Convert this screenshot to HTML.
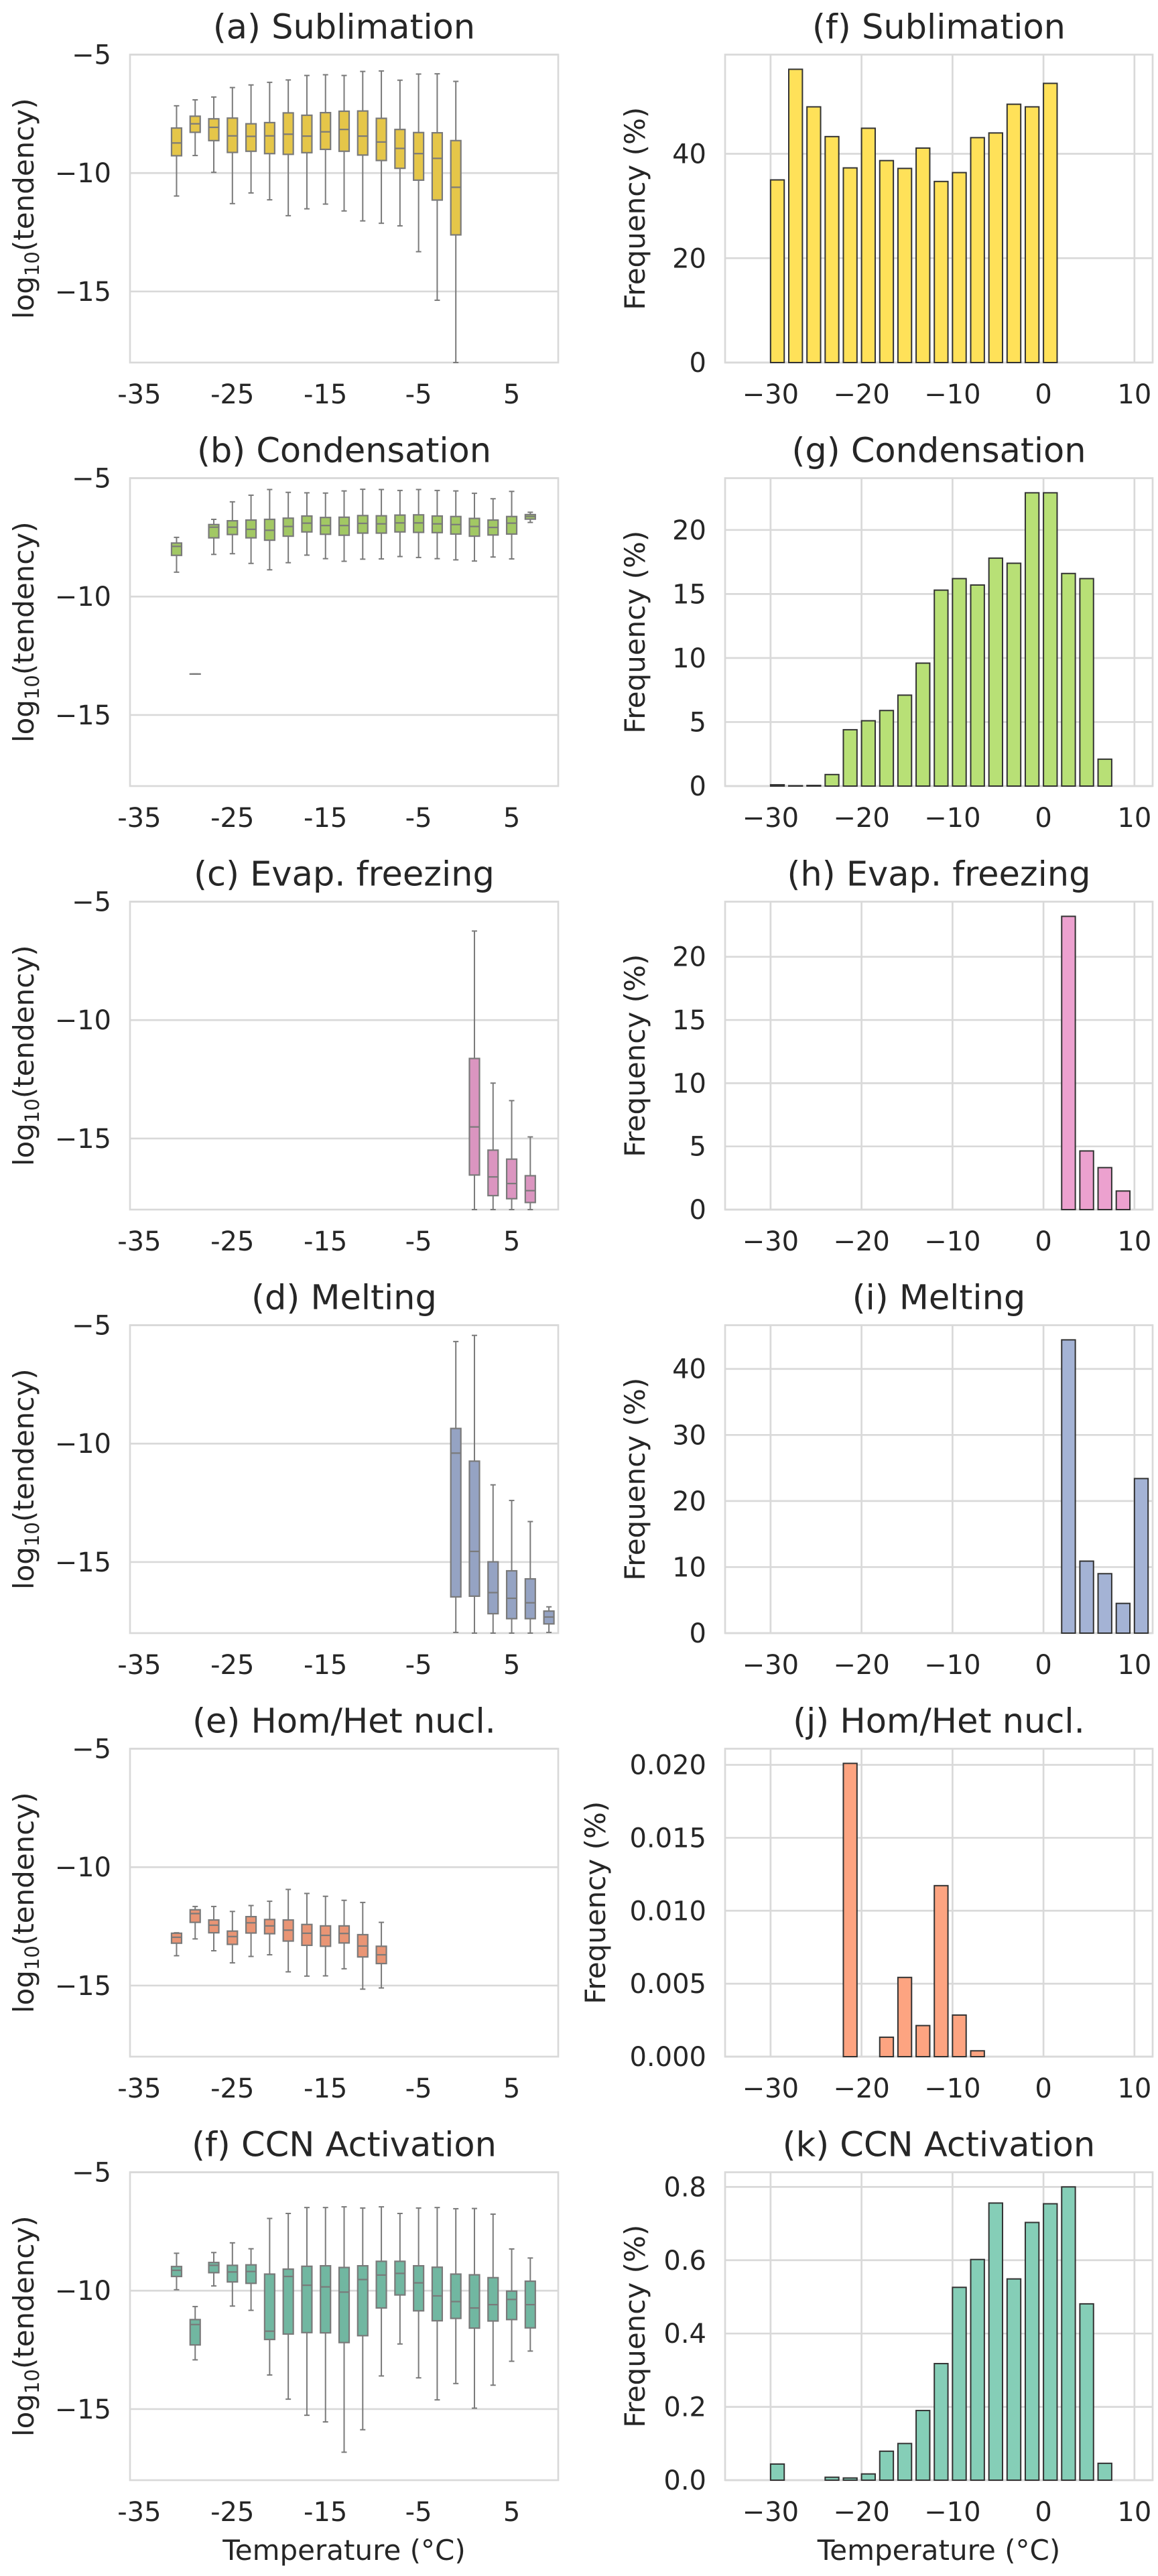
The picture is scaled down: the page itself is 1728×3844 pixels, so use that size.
<!DOCTYPE html>
<html><head><meta charset="utf-8"><title>Tendency boxplots and frequency histograms</title>
<style>
html,body{margin:0;padding:0;background:#fff;}
svg{display:block;}
text{font-family:"DejaVu Sans","Liberation Sans",sans-serif;fill:#262626;}
</style></head>
<body>
<svg id="fig" xmlns="http://www.w3.org/2000/svg" width="1728" height="3844" viewBox="0 0 1728 3844"></svg>
<script>
// ---------- data: box panels (temperature centers, whisker hi, q3, median, q1, whisker lo) ----------
const aT   = [-31,-29,-27,-25,-23,-21,-19,-17,-15,-13,-11,-9,-7,-5,-3,-1];
const aHi  = [-7.16,-6.91,-6.79,-6.39,-6.28,-6.17,-6.07,-5.88,-5.85,-5.88,-5.71,-5.69,-6.08,-5.82,-5.81,-6.13];
const aQ3  = [-8.10,-7.60,-7.71,-7.68,-7.92,-7.87,-7.46,-7.56,-7.45,-7.39,-7.38,-7.69,-8.16,-8.29,-8.30,-8.63];
const aMed = [-8.73,-7.92,-8.07,-8.43,-8.45,-8.43,-8.36,-8.44,-8.26,-8.16,-8.44,-8.69,-8.96,-9.18,-9.38,-10.60];
const aQ1  = [-9.27,-8.28,-8.63,-9.13,-9.08,-9.18,-9.21,-9.14,-9.00,-9.08,-9.24,-9.47,-9.80,-10.30,-11.14,-12.61];
const aLo  = [-10.97,-9.26,-9.97,-11.29,-10.84,-11.13,-11.80,-11.51,-11.31,-11.60,-12.02,-12.12,-12.23,-13.32,-15.37,-18.0];

const bT   = [-31,-29,-27,-25,-23,-21,-19,-17,-15,-13,-11,-9,-7,-5,-3,-1,1,3,5,7];
const bHi  = [-7.50,-13.27,-6.74,-6.00,-5.72,-5.48,-5.60,-5.62,-5.63,-5.54,-5.47,-5.48,-5.52,-5.48,-5.52,-5.54,-5.64,-5.87,-5.56,-6.44];
const bQ3  = [-7.74,-13.27,-6.96,-6.80,-6.77,-6.74,-6.69,-6.60,-6.66,-6.65,-6.58,-6.59,-6.56,-6.55,-6.60,-6.62,-6.70,-6.77,-6.62,-6.54];
const bMed = [-7.88,-13.27,-7.07,-7.07,-7.16,-7.20,-7.04,-6.90,-7.00,-7.00,-6.91,-6.93,-6.89,-6.89,-6.93,-6.96,-7.04,-7.08,-6.90,-6.62];
const bQ1  = [-8.26,-13.27,-7.52,-7.38,-7.52,-7.62,-7.45,-7.27,-7.37,-7.41,-7.32,-7.32,-7.27,-7.29,-7.30,-7.36,-7.45,-7.40,-7.36,-6.73];
const bLo  = [-8.97,-13.27,-8.22,-8.19,-8.60,-8.87,-8.57,-8.25,-8.40,-8.51,-8.42,-8.41,-8.31,-8.35,-8.40,-8.45,-8.50,-8.33,-8.41,-6.87];

const cT   = [1,3,5,7];
const cHi  = [-6.24,-12.66,-13.40,-14.93];
const cQ3  = [-11.62,-15.49,-15.87,-16.57];
const cMed = [-14.51,-16.62,-16.90,-17.20];
const cQ1  = [-16.54,-17.41,-17.54,-17.70];
const cLo  = [-18.0,-18.0,-18.0,-18.0];

const dT   = [-1,1,3,5,7,9];
const dHi  = [-5.69,-5.43,-11.74,-12.40,-13.29,-16.89];
const dQ3  = [-9.36,-10.74,-14.99,-15.37,-15.71,-17.07];
const dMed = [-10.40,-14.55,-16.29,-16.53,-16.72,-17.32];
const dQ1  = [-16.47,-16.44,-17.18,-17.39,-17.39,-17.61];
const dLo  = [-17.97,-18.0,-18.0,-18.0,-18.0,-17.97];

const eT   = [-31,-29,-27,-25,-23,-21,-19,-17,-15,-13,-11,-9];
const eHi  = [-12.77,-11.66,-11.66,-11.87,-11.62,-11.44,-10.94,-11.11,-11.23,-11.40,-11.49,-12.33];
const eQ3  = [-12.79,-11.80,-12.23,-12.70,-12.09,-12.21,-12.23,-12.42,-12.48,-12.48,-12.85,-13.34];
const eMed = [-12.96,-11.96,-12.45,-12.93,-12.35,-12.48,-12.66,-12.79,-12.88,-12.80,-13.33,-13.70];
const eQ1  = [-13.21,-12.33,-12.77,-13.26,-12.78,-12.81,-13.12,-13.30,-13.34,-13.20,-13.79,-14.07];
const eLo  = [-13.74,-13.03,-13.53,-14.04,-13.77,-13.70,-14.42,-14.60,-14.59,-14.29,-15.15,-15.10];

const fT   = [-31,-29,-27,-25,-23,-21,-19,-17,-15,-13,-11,-9,-7,-5,-3,-1,1,3,5,7];
const fHi  = [-8.42,-10.67,-8.39,-7.98,-8.23,-6.95,-6.74,-6.49,-6.49,-6.46,-6.51,-6.46,-6.74,-6.51,-6.49,-6.54,-6.53,-6.77,-8.24,-8.62];
const fQ3  = [-8.98,-11.22,-8.81,-8.93,-8.91,-9.30,-9.09,-8.97,-8.95,-9.02,-8.95,-8.76,-8.76,-8.95,-9.01,-9.30,-9.33,-9.45,-10.02,-9.60];
const fMed = [-9.14,-11.43,-8.93,-9.21,-9.19,-11.71,-9.40,-9.77,-9.84,-10.06,-9.53,-9.34,-9.27,-9.67,-10.22,-10.46,-10.73,-10.59,-10.37,-10.59];
const fQ1  = [-9.40,-12.29,-9.24,-9.63,-9.69,-12.06,-11.83,-11.77,-11.78,-12.19,-11.90,-10.73,-10.18,-10.85,-11.27,-11.17,-11.58,-11.28,-11.22,-11.57];
const fLo  = [-9.96,-12.92,-9.80,-10.65,-10.83,-13.56,-14.58,-15.26,-15.54,-16.82,-15.87,-13.60,-12.25,-13.68,-14.61,-13.92,-14.96,-13.99,-12.98,-12.55];

// ---------- data: histogram panels (bin left edges, frequency %) ----------
const hfBins = [-30,-28,-26,-24,-22,-20,-18,-16,-14,-12,-10,-8,-6,-4,-2,0];
const hfVals = [35.0,56.2,49.0,43.3,37.3,44.9,38.7,37.2,41.1,34.7,36.4,43.1,44.0,49.5,49.0,53.5];
const hgBins = [-30,-28,-26,-24,-22,-20,-18,-16,-14,-12,-10,-8,-6,-4,-2,0,2,4,6,8];
const hgVals = [0.1,0.03,0.05,0.9,4.4,5.1,5.9,7.1,9.6,15.3,16.2,15.7,17.8,17.4,22.9,22.9,16.6,16.2,2.1,0];
const hhBins = [2,4,6,8];
const hhVals = [23.2,4.64,3.32,1.47];
const hiBins = [2,4,6,8,10];
const hiVals = [44.4,10.9,9.0,4.5,23.4];
const hjBins = [-22,-20,-18,-16,-14,-12,-10,-8];
const hjVals = [0.0201,0,0.00133,0.00543,0.00213,0.01172,0.00285,0.0004];
const hkBins = [-30,-28,-26,-24,-22,-20,-18,-16,-14,-12,-10,-8,-6,-4,-2,0,2,4,6,8];
const hkVals = [0.044,0,0,0.008,0.006,0.017,0.079,0.10,0.19,0.318,0.526,0.602,0.756,0.549,0.703,0.754,0.80,0.481,0.046,0];

// ---------- tick labels ----------
const leftYTicks = [-5,-10,-15];
const leftYLabels = ["\u22125","\u221210","\u221215"];
const leftXTicks = [-35,-25,-15,-5,5];
const leftXLabels = ["-35","-25","-15","-5","5"];
const rightXTicks = [-30,-20,-10,0,10];
const rightXLabels = ["\u221230","\u221220","\u221210","0","10"];
const fYTicks = [0,20,40];           const fYLabels = ["0","20","40"];
const gYTicks = [0,5,10,15,20];      const gYLabels = ["0","5","10","15","20"];
const hYTicks = [0,5,10,15,20];      const hYLabels = ["0","5","10","15","20"];
const iYTicks = [0,10,20,30,40];     const iYLabels = ["0","10","20","30","40"];
const jYTicks = [0,0.005,0.01,0.015,0.02]; const jYLabels = ["0.000","0.005","0.010","0.015","0.020"];
const kYTicks = [0,0.2,0.4,0.6,0.8]; const kYLabels = ["0.0","0.2","0.4","0.6","0.8"];

// ---------- layout ----------
const NS = "http://www.w3.org/2000/svg";
const svg = document.getElementById("fig");
const L0 = 194, L1 = 833, R0 = 1082, R1 = 1720, PH = 459.5, PITCH = 632, TOP0 = 81.5;
const GRID = "#d9d9d9", EDGE = "#7a7a7a", TITLE_FS = 51;
function xL(t){ return L0 + (t + 36) * (L1 - L0) / 46; }
function xR(t){ return R0 + (t + 35) * (R1 - R0) / 47; }
function yL(v, top){ return top + (-5 - v) * PH / 13; }
function yR(v, top, ymax){ return top + (1 - v / ymax) * PH; }
function el(tag, attrs, parent){
  const e = document.createElementNS(NS, tag);
  for (const k in attrs) e.setAttribute(k, attrs[k]);
  (parent || svg).appendChild(e);
  return e;
}
function txt(str, attrs, parent){ const t = el("text", attrs, parent); t.textContent = str; return t; }

function frame(x0, x1, top, parent){
  const r = el("rect", {x:x0, y:top, width:x1-x0, height:PH, fill:"none", stroke:GRID, "stroke-width":2.7}, parent);
  
  
}

function boxPanel(name, title, row, T, hi, q3, med, q1, lo, fill, isLast){
  const top = TOP0 + row * PITCH;
  const g = el("g", {});
  
  
  leftYTicks.forEach((v, i) => {
    const y = yL(v, top);
    const ln = el("line", {x1:L0, x2:L1, y1:y, y2:y, stroke:GRID, "stroke-width":2.7}, g);
    
    
    const tl = txt(leftYLabels[i], {x:L0 - 28, y:y + 14, "text-anchor":"end", "font-size":40}, g);
    
    
  });
  frame(L0, L1, top, g);
  leftXTicks.forEach((t, i) => {
    const tl = txt(leftXLabels[i], {x:xL(t), y:top + PH + 61, "text-anchor":"middle", "font-size":40}, g);
    
    
  });
  const tt = txt(title, {x:(L0 + L1) / 2, y:top - 24, "text-anchor":"middle", "font-size":TITLE_FS}, g);
  
  
  const cy = top + PH / 2;
  const yl = el("text", {x:0, y:0, "text-anchor":"middle", "font-size":42, transform:`translate(50,${cy}) rotate(-90)`}, g);
  
  
  yl.appendChild(document.createTextNode("log"));
  const sub = document.createElementNS(NS, "tspan");
  sub.setAttribute("font-size", 29); sub.setAttribute("dy", 8);
  sub.textContent = "10"; yl.appendChild(sub);
  const rest = document.createElementNS(NS, "tspan");
  rest.setAttribute("dy", -8); rest.textContent = "(tendency)"; yl.appendChild(rest);
  if (isLast) {
    const xl = txt("Temperature (\u00B0C)", {x:(L0 + L1) / 2, y:3820, "text-anchor":"middle", "font-size":42}, g);
    
    
  }
  const hw = 7.5, cap = 4;
  T.forEach((t, i) => {
    const cx = xL(t);
    const bg = el("g", {}, g);
    
    
    const yHi = yL(hi[i], top), yQ3 = yL(q3[i], top), yMd = yL(med[i], top), yQ1 = yL(q1[i], top), yLo = yL(lo[i], top);
    el("line", {x1:cx, x2:cx, y1:yHi, y2:yQ3, stroke:EDGE, "stroke-width":2}, bg);
    el("line", {x1:cx, x2:cx, y1:yQ1, y2:yLo, stroke:EDGE, "stroke-width":2}, bg);
    el("line", {x1:cx-cap, x2:cx+cap, y1:yHi, y2:yHi, stroke:EDGE, "stroke-width":2}, bg);
    el("line", {x1:cx-cap, x2:cx+cap, y1:yLo, y2:yLo, stroke:EDGE, "stroke-width":2}, bg);
    el("rect", {x:cx-hw, y:yQ3, width:2*hw, height:Math.max(0.01, yQ1 - yQ3), fill:fill, stroke:EDGE, "stroke-width":2.2}, bg);
    el("line", {x1:cx-hw, x2:cx+hw, y1:yMd, y2:yMd, stroke:EDGE, "stroke-width":2.2}, bg);
  });
}

function histPanel(name, title, row, bins, vals, yt, ylab, fill, isLast, ylX){
  const top = TOP0 + row * PITCH;
  const ymax = 1.05 * Math.max(...vals);
  const g = el("g", {});
  
  
  rightXTicks.forEach((t, i) => {
    const x = xR(t);
    const ln = el("line", {x1:x, x2:x, y1:top, y2:top + PH, stroke:GRID, "stroke-width":2.7}, g);
    
    
    const tl = txt(rightXLabels[i], {x:x, y:top + PH + 61, "text-anchor":"middle", "font-size":40}, g);
    
    
  });
  yt.forEach((v, i) => {
    const y = yR(v, top, ymax);
    const ln = el("line", {x1:R0, x2:R1, y1:y, y2:y, stroke:GRID, "stroke-width":2.7}, g);
    
    
    const tl = txt(ylab[i], {x:R0 - 28, y:y + 14, "text-anchor":"end", "font-size":40}, g);
    
    
  });
  frame(R0, R1, top, g);
  const tt = txt(title, {x:(R0 + R1) / 2, y:top - 24, "text-anchor":"middle", "font-size":TITLE_FS}, g);
  
  
  const yl = txt("Frequency (%)", {x:0, y:0, "text-anchor":"middle", "font-size":42, transform:`translate(${ylX},${top + PH / 2}) rotate(-90)`}, g);
  
  
  if (isLast) {
    const xl = txt("Temperature (\u00B0C)", {x:(R0 + R1) / 2, y:3820, "text-anchor":"middle", "font-size":42}, g);
    
    
  }
  const y0 = yR(0, top, ymax);
  bins.forEach((b, i) => {
    if (!(vals[i] > 0)) return;
    const x0 = xR(b), x1 = xR(b + 1.5);
    const yv = yR(vals[i], top, ymax);
    const r = el("rect", {x:x0, y:yv, width:x1 - x0, height:y0 - yv, fill:fill, stroke:"#333333", "stroke-width":2}, g);
    
    
  });
}

boxPanel("panel-a-sublimation", "(a) Sublimation", 0, aT, aHi, aQ3, aMed, aQ1, aLo, "#e5c649", false);
boxPanel("panel-b-condensation", "(b) Condensation", 1, bT, bHi, bQ3, bMed, bQ1, bLo, "#a2c864", false);
boxPanel("panel-c-evap-freezing", "(c) Evap. freezing", 2, cT, cHi, cQ3, cMed, cQ1, cLo, "#db95c0", false);
boxPanel("panel-d-melting", "(d) Melting", 3, dT, dHi, dQ3, dMed, dQ1, dLo, "#95a3c3", false);
boxPanel("panel-e-nucleation", "(e) Hom/Het nucl.", 4, eT, eHi, eQ3, eMed, eQ1, eLo, "#e99575", false);
boxPanel("panel-f-ccn-activation", "(f) CCN Activation", 5, fT, fHi, fQ3, fMed, fQ1, fLo, "#71b7a1", true);

histPanel("panel-f-sublimation-hist", "(f) Sublimation", 0, hfBins, hfVals, fYTicks, fYLabels, "#ffe159", false, 962);
histPanel("panel-g-condensation-hist", "(g) Condensation", 1, hgBins, hgVals, gYTicks, gYLabels, "#b8e076", false, 962);
histPanel("panel-h-evap-freezing-hist", "(h) Evap. freezing", 2, hhBins, hhVals, hYTicks, hYLabels, "#eca1cf", false, 962);
histPanel("panel-i-melting-hist", "(i) Melting", 3, hiBins, hiVals, iYTicks, iYLabels, "#a4b3d5", false, 962);
histPanel("panel-j-nucleation-hist", "(j) Hom/Het nucl.", 4, hjBins, hjVals, jYTicks, jYLabels, "#fda481", false, 903);
histPanel("panel-k-ccn-activation-hist", "(k) CCN Activation", 5, hkBins, hkVals, kYTicks, kYLabels, "#85ceb7", true, 962);
</script>
</body></html>
